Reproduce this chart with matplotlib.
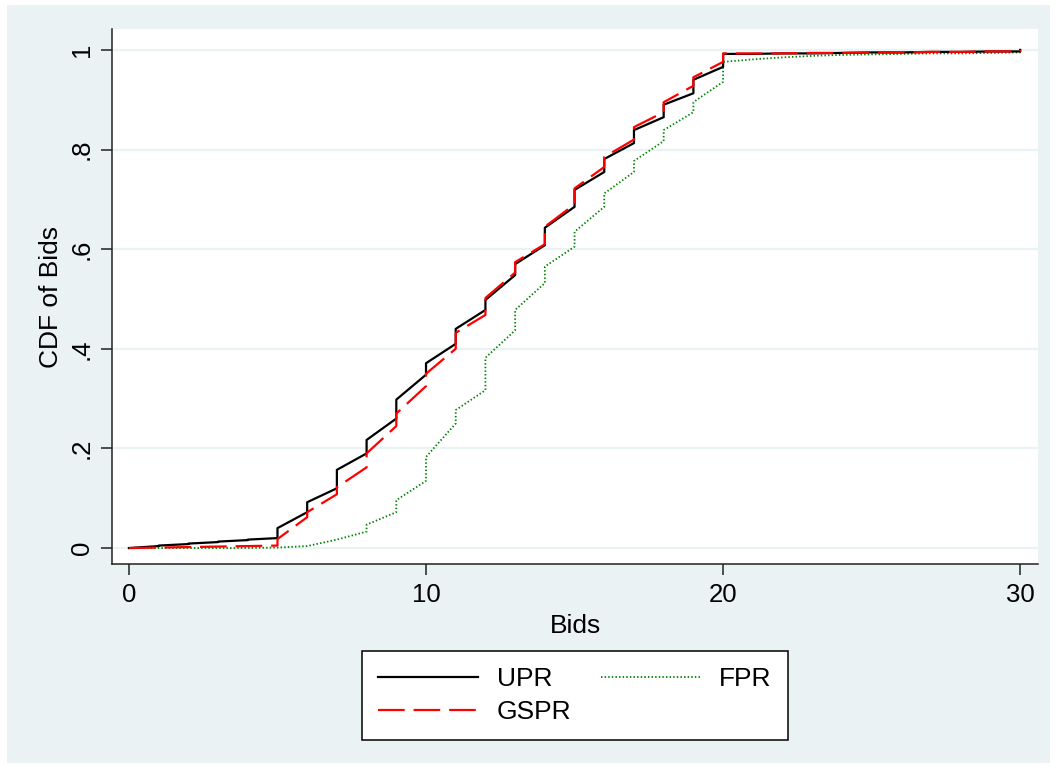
import matplotlib
matplotlib.use("Agg")
import matplotlib.pyplot as plt
from matplotlib.patches import Rectangle

# Bid levels and empirical CDF values just below / at each level
levels = list(range(0, 31))

upr_below = [0.000, 0.004, 0.008, 0.012, 0.016, 0.020, 0.072, 0.120, 0.190, 0.260,
             0.348, 0.410, 0.478, 0.548, 0.608, 0.685, 0.755, 0.813, 0.865, 0.913,
             0.966, 0.992, 0.993, 0.993, 0.994, 0.995, 0.995, 0.996, 0.996, 0.997,
             0.997]
upr_at = [0.000, 0.005, 0.009, 0.013, 0.017, 0.040, 0.092, 0.157, 0.217, 0.298,
          0.371, 0.440, 0.498, 0.570, 0.643, 0.719, 0.781, 0.839, 0.890, 0.940,
          0.992, 0.992, 0.993, 0.993, 0.994, 0.995, 0.995, 0.996, 0.996, 0.997,
          1.000]

gspr_below = [0.000, 0.001, 0.002, 0.003, 0.004, 0.005, 0.062, 0.108, 0.162, 0.245,
              0.325, 0.400, 0.468, 0.553, 0.610, 0.690, 0.765, 0.820, 0.875, 0.928,
              0.976, 0.993, 0.993, 0.994, 0.994, 0.995, 0.995, 0.996, 0.996, 0.997,
              0.997]
gspr_at = [0.000, 0.001, 0.002, 0.003, 0.004, 0.018, 0.072, 0.122, 0.190, 0.270,
           0.350, 0.432, 0.502, 0.574, 0.645, 0.722, 0.785, 0.845, 0.895, 0.945,
           0.993, 0.993, 0.993, 0.994, 0.994, 0.995, 0.995, 0.996, 0.996, 0.997,
           1.000]

fpr_below = [0.000, 0.000, 0.000, 0.000, 0.000, 0.001, 0.004, 0.017, 0.033, 0.072,
             0.135, 0.250, 0.317, 0.437, 0.532, 0.605, 0.685, 0.755, 0.817, 0.875,
             0.936, 0.981, 0.985, 0.988, 0.990, 0.991, 0.992, 0.993, 0.993, 0.994,
             0.995]
fpr_at = [0.000, 0.000, 0.000, 0.000, 0.000, 0.001, 0.004, 0.017, 0.047, 0.096,
          0.183, 0.277, 0.382, 0.478, 0.565, 0.635, 0.712, 0.777, 0.839, 0.895,
          0.976, 0.981, 0.985, 0.988, 0.990, 0.991, 0.992, 0.993, 0.993, 0.994,
          0.996]

x_ticks = [0, 10, 20, 30]
y_ticks = [0, 0.2, 0.4, 0.6, 0.8, 1.0]
y_tick_labels = ["0", ".2", ".4", ".6", ".8", "1"]


def cdf_path(lv, below, at):
    xs, ys = [], []
    for l, b, a in zip(lv, below, at):
        xs += [l, l]
        ys += [b, a]
    return xs, ys


plt.rcParams["font.family"] = ["Liberation Sans", "DejaVu Sans"]
FS = 19
TFS = 18.5
BG = "#EAF2F3"

W, H = 1057, 769
fig = plt.figure(figsize=(W / 100, H / 100), dpi=100, facecolor="white")
fig.patches.append(Rectangle((7 / W, 1 - 763 / H), (1050 - 7) / W, (763 - 5) / H,
                             transform=fig.transFigure, facecolor=BG,
                             edgecolor="none", zorder=-5))

left, right = 112 / W, 1038 / W
bottom, top = 1 - 564 / H, 1 - 29 / H
ax = fig.add_axes([left, bottom, right - left, top - bottom], zorder=1)
ax.set_facecolor("white")

x, y = cdf_path(levels, upr_below, upr_at)
ax.plot(x, y, color="black", lw=1.6, label="UPR", zorder=3)
x, y = cdf_path(levels, gspr_below, gspr_at)
ax.plot(x, y, color="#FF0000", lw=1.6, ls=(0, (12, 4)), label="GSPR", zorder=4)
x, y = cdf_path(levels, fpr_below, fpr_at)
ax.plot(x, y, color="#008000", lw=1.3, ls=(0, (0.8, 1.2)), label="FPR", zorder=2)

ax.set_xlim(-0.57, 30.6)
ax.set_ylim(-0.032, 1.042)

ax.set_xticks(x_ticks)
ax.set_yticks(y_ticks)
ax.set_yticklabels(y_tick_labels, rotation=90, va="center")
ax.tick_params(axis="both", direction="out", length=8, width=1.1, color="#222222",
               labelsize=TFS, pad=6)
ax.tick_params(axis="y", pad=5)

ax.grid(axis="y", color=BG, lw=1.6, zorder=0)
ax.set_axisbelow(True)

for side in ("top", "right"):
    ax.spines[side].set_visible(False)
for side in ("left", "bottom"):
    ax.spines[side].set_linewidth(1.1)
    ax.spines[side].set_color("#222222")

ax.set_xlabel("Bids", fontsize=FS, labelpad=5)
ax.set_ylabel("CDF of Bids", fontsize=FS, labelpad=5)

leg = fig.legend(loc="upper center", bbox_to_anchor=(575 / W, 1 - 651 / H),
                 ncol=2, fontsize=FS, frameon=True, fancybox=False, framealpha=1,
                 handlelength=3.8, handletextpad=0.7, columnspacing=1.1,
                 labelspacing=0.35, borderpad=0.6, borderaxespad=0)
leg.get_frame().set_edgecolor("black")
leg.get_frame().set_linewidth(1.1)
leg.get_frame().set_facecolor("white")

fig.savefig("out.png", dpi=100, facecolor=fig.get_facecolor())
